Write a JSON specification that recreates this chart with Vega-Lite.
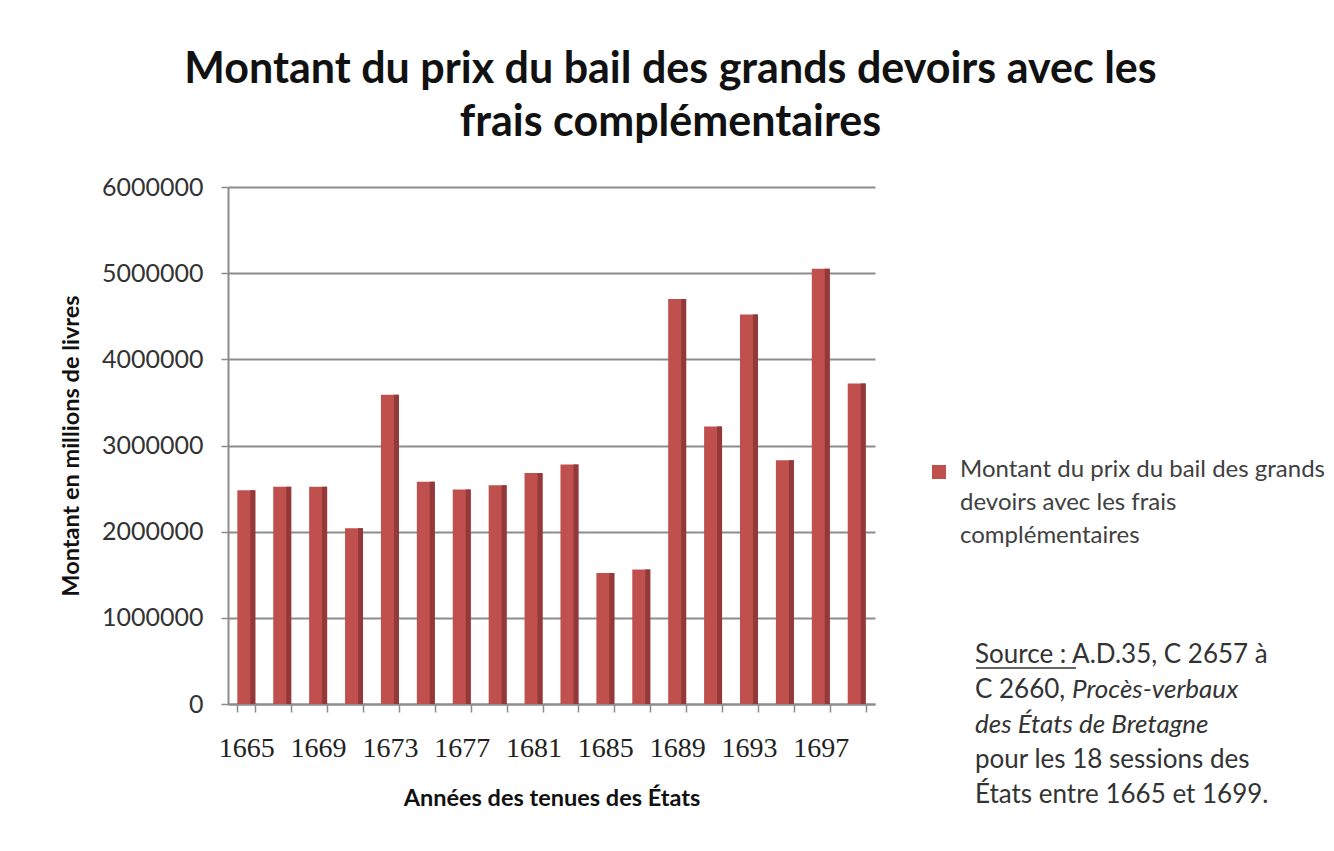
{
  "$schema": "https://vega.github.io/schema/vega-lite/v6.json",
  "autosize": {"type": "none"},
  "padding": {"left": 228, "top": 187, "right": 459, "bottom": 147},
  "width": 647,
  "height": 517,
  "background": "white",
  "title": {
    "text": ["Montant du prix du bail des grands devoirs avec les", "frais complémentaires"],
    "font": "Lato",
    "fontSize": 43,
    "fontWeight": "bold",
    "color": "#111111",
    "lineHeight": 53,
    "anchor": "middle",
    "dx": 119,
    "offset": 30
  },
  "data": {
    "values": [
      {"annee": "1665", "montant": 2480000, "serie": "Montant du prix du bail des grands devoirs avec les frais complémentaires"},
      {"annee": "1667", "montant": 2520000, "serie": "Montant du prix du bail des grands devoirs avec les frais complémentaires"},
      {"annee": "1669", "montant": 2520000, "serie": "Montant du prix du bail des grands devoirs avec les frais complémentaires"},
      {"annee": "1671", "montant": 2040000, "serie": "Montant du prix du bail des grands devoirs avec les frais complémentaires"},
      {"annee": "1673", "montant": 3590000, "serie": "Montant du prix du bail des grands devoirs avec les frais complémentaires"},
      {"annee": "1675", "montant": 2580000, "serie": "Montant du prix du bail des grands devoirs avec les frais complémentaires"},
      {"annee": "1677", "montant": 2490000, "serie": "Montant du prix du bail des grands devoirs avec les frais complémentaires"},
      {"annee": "1679", "montant": 2540000, "serie": "Montant du prix du bail des grands devoirs avec les frais complémentaires"},
      {"annee": "1681", "montant": 2680000, "serie": "Montant du prix du bail des grands devoirs avec les frais complémentaires"},
      {"annee": "1683", "montant": 2780000, "serie": "Montant du prix du bail des grands devoirs avec les frais complémentaires"},
      {"annee": "1685", "montant": 1520000, "serie": "Montant du prix du bail des grands devoirs avec les frais complémentaires"},
      {"annee": "1687", "montant": 1560000, "serie": "Montant du prix du bail des grands devoirs avec les frais complémentaires"},
      {"annee": "1689", "montant": 4700000, "serie": "Montant du prix du bail des grands devoirs avec les frais complémentaires"},
      {"annee": "1691", "montant": 3220000, "serie": "Montant du prix du bail des grands devoirs avec les frais complémentaires"},
      {"annee": "1693", "montant": 4520000, "serie": "Montant du prix du bail des grands devoirs avec les frais complémentaires"},
      {"annee": "1695", "montant": 2830000, "serie": "Montant du prix du bail des grands devoirs avec les frais complémentaires"},
      {"annee": "1697", "montant": 5050000, "serie": "Montant du prix du bail des grands devoirs avec les frais complémentaires"},
      {"annee": "1699", "montant": 3720000, "serie": "Montant du prix du bail des grands devoirs avec les frais complémentaires"}
    ]
  },
  "config": {
    "view": {"stroke": null},
    "axis": {
      "domainColor": "#8c8c8c",
      "domainWidth": 2,
      "tickColor": "#8c8c8c",
      "tickWidth": 1.5,
      "gridColor": "#8c8c8c",
      "gridWidth": 2
    }
  },
  "layer": [
    {
      "mark": {"type": "bar", "color": "#c0504d"},
      "encoding": {
        "x": {
          "field": "annee",
          "type": "ordinal",
          "scale": {"paddingInner": 0.5, "paddingOuter": 0.26},
          "axis": {
            "title": "Années des tenues des États",
            "titleFont": "Lato",
            "titleFontSize": 23.5,
            "titleFontWeight": "bold",
            "titleColor": "#111111",
            "titlePadding": 24,
            "labelAngle": 0,
            "labelFont": "Liberation Serif",
            "labelFontSize": 28,
            "labelColor": "#222222",
            "labelPadding": 22,
            "tickSize": 8,
            "tickBand": "extent",
            "labelExpr": "(toNumber(datum.value) - 1665) % 4 == 0 ? datum.value : ''",
            "grid": false
          }
        },
        "y": {
          "field": "montant",
          "type": "quantitative",
          "scale": {"domain": [0, 6000000], "nice": false},
          "axis": {
            "title": "Montant en millions de livres",
            "titleFont": "Lato",
            "titleFontSize": 23.5,
            "titleFontWeight": "bold",
            "titleColor": "#111111",
            "titlePadding": 18,
            "values": [0, 1000000, 2000000, 3000000, 4000000, 5000000, 6000000],
            "format": "d",
            "labelFont": "Lato",
            "labelFontSize": 25,
            "labelColor": "#333333",
            "labelPadding": 18,
            "tickSize": 7,
            "grid": true
          }
        },
        "fill": {
          "field": "serie",
          "type": "nominal",
          "scale": {"range": ["#c0504d"]},
          "legend": {
            "title": null,
            "orient": "none",
            "legendX": 699,
            "legendY": 273,
            "symbolType": "square",
            "symbolSize": 196,
            "symbolStrokeWidth": 0,
            "labelFont": "Lato",
            "labelFontSize": 24,
            "labelColor": "#404040",
            "labelLimit": 700,
            "labelBaseline": "top",
            "labelOffset": 9,
            "labelExpr": "['Montant du prix du bail des grands', 'devoirs avec les frais', 'complémentaires']",
            "encode": {"labels": {"update": {"lineHeight": {"value": 33}, "dy": {"value": -14}}}}
          }
        }
      }
    },
    {
      "mark": {"type": "bar", "color": "#94393a", "width": 5, "xOffset": 6.5},
      "encoding": {
        "x": {"field": "annee", "type": "ordinal"},
        "y": {"field": "montant", "type": "quantitative"}
      }
    },
    {
      "data": {"values": [{}]},
      "mark": {"type": "text", "text": "Source : A.D.35, C 2657 à", "x": 747, "y": 468, "align": "left", "baseline": "middle", "font": "Lato", "fontSize": 26, "color": "#333333"},
      "encoding": {}
    },
    {
      "data": {"values": [{}]},
      "mark": {"type": "rule", "color": "#333333", "strokeWidth": 1.5},
      "encoding": {"x": {"value": 748}, "x2": {"value": 848}, "y": {"value": 481}, "y2": {"value": 481}}
    },
    {
      "data": {"values": [{}]},
      "mark": {"type": "text", "text": "C 2660,", "x": 747, "y": 503, "align": "left", "baseline": "middle", "font": "Lato", "fontSize": 26, "color": "#333333"},
      "encoding": {}
    },
    {
      "data": {"values": [{}]},
      "mark": {"type": "text", "text": "Procès-verbaux", "x": 844, "y": 503, "align": "left", "baseline": "middle", "font": "Lato", "fontSize": 26, "fontStyle": "italic", "color": "#333333"},
      "encoding": {}
    },
    {
      "data": {"values": [{}]},
      "mark": {"type": "text", "text": "des États de Bretagne", "x": 747, "y": 538, "align": "left", "baseline": "middle", "font": "Lato", "fontSize": 26, "fontStyle": "italic", "color": "#333333"},
      "encoding": {}
    },
    {
      "data": {"values": [{}]},
      "mark": {"type": "text", "text": "pour les 18 sessions des", "x": 747, "y": 573, "align": "left", "baseline": "middle", "font": "Lato", "fontSize": 26, "color": "#333333"},
      "encoding": {}
    },
    {
      "data": {"values": [{}]},
      "mark": {"type": "text", "text": "États entre 1665 et 1699.", "x": 747, "y": 608, "align": "left", "baseline": "middle", "font": "Lato", "fontSize": 26, "color": "#333333"},
      "encoding": {}
    }
  ]
}
